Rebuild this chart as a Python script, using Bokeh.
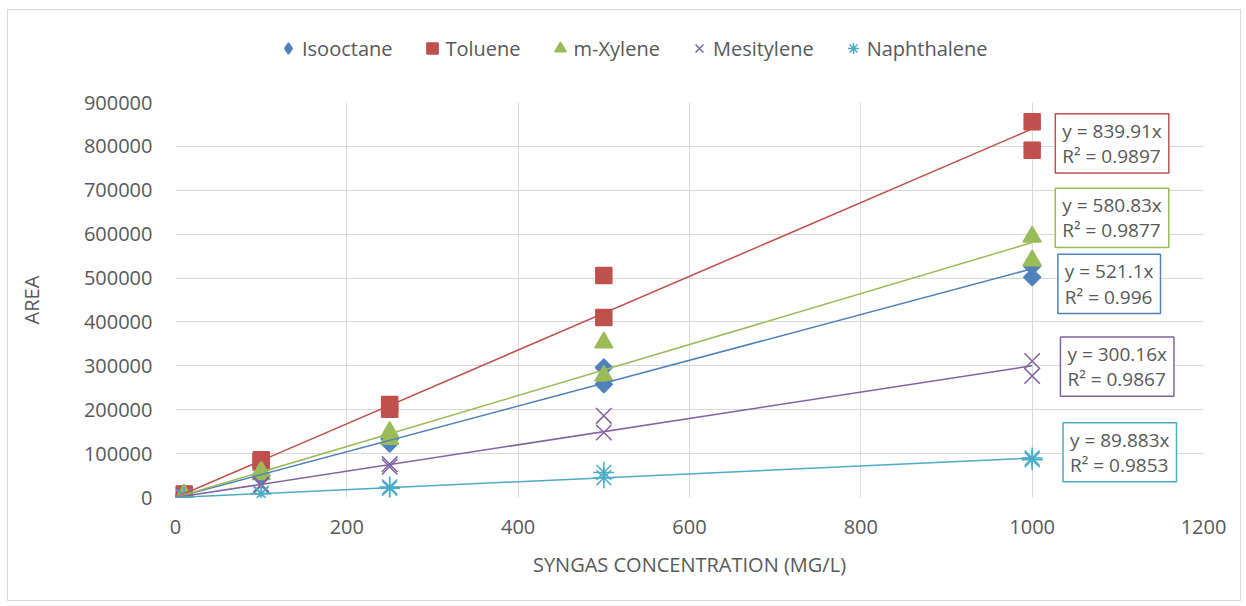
import math

from bokeh.embed import file_html
from bokeh.layouts import column
from bokeh.models import (BasicTickFormatter, FixedTicker, Label, Legend,
                          LegendItem, Range1d)
from bokeh.plotting import figure
from bokeh.resources import INLINE

# Calibration data: peak area for each syngas concentration (two replicates each)
concentration = [10, 10, 100, 100, 250, 250, 500, 500, 1000, 1000]
isooctane = [5000, 5500, 52000, 49000, 123000, 133000, 296000, 258000, 502000, 527000]
toluene = [8000, 7000, 86000, 81000, 212000, 201000, 506000, 410000, 856000, 791000]
m_xylene = [6000, 5500, 60000, 53000, 149000, 133000, 353000, 277000, 594000, 540000]
mesitylene = [3000, 2800, 30000, 27000, 76000, 70000, 186000, 148000, 311000, 277000]
naphthalene = [900, 800, 9000, 8500, 24000, 21000, 57000, 45000, 90000, 86000]

series_names = ["Isooctane", "Toluene", "m-Xylene", "Mesitylene", "Naphthalene"]
series_values = [isooctane, toluene, m_xylene, mesitylene, naphthalene]

# Linear fits forced through the origin
slopes = [521.1, 839.91, 580.83, 300.16, 89.883]
r_squared = ["0.996", "0.9897", "0.9877", "0.9867", "0.9853"]

x_ticks = [0, 200, 400, 600, 800, 1000, 1200]
y_ticks = [0, 100000, 200000, 300000, 400000, 500000, 600000, 700000, 800000, 900000]

# Styling
FONT = "Open Sans"
TEXT = "#595959"
GRID = "#D9D9D9"
colors = ["#4F81BD", "#C0504D", "#9BBB59", "#8064A2", "#4BACC6"]
markers = ["square", "square", "triangle", "x", "asterisk"]
legend_markers = ["diamond", "square", "triangle", "x", "asterisk"]
marker_sizes = [12, 16, 18, 22, 21]
marker_angles = [math.pi / 4, 0, 0, 0, 0]
# top-left corners of the fit-equation boxes (data units)
eq_box_x = [1030, 1027, 1027, 1033, 1036]
eq_box_y = [554000, 874500, 704600, 365800, 170600]

LEGEND_H = 60
CHART_W, CHART_H = 1232, 590

# ---- legend strip across the top of the chart ----
lf = figure(
    width=CHART_W, height=LEGEND_H,
    x_range=Range1d(-2, -1), y_range=Range1d(-2, -1),
    x_axis_type=None, y_axis_type=None,
    output_backend="svg", toolbar_location=None,
    min_border=0,
)
lf.outline_line_color = None
lf.grid.visible = False
lf.background_fill_color = "white"
lf.border_fill_color = "white"

legend_items = []
for i, name in enumerate(series_names):
    c = colors[i]
    # series swatches; the data lie outside this strip's ranges, so only the legend shows
    sw = lf.scatter(concentration, series_values[i], marker=legend_markers[i],
                    size=12, fill_color=c, line_color=c, line_width=1.5)
    legend_items.append(LegendItem(label=name, renderers=[sw]))

legend = Legend(
    items=legend_items, orientation="horizontal", location=(99, 7),
    glyph_width=28, glyph_height=30, label_standoff=0, spacing=25,
    padding=0, margin=0, border_line_color=None, background_fill_alpha=0,
    label_text_font=FONT, label_text_font_size="20px", label_text_color=TEXT,
)
lf.add_layout(legend)

# ---- main chart ----
p = figure(
    width=CHART_W, height=CHART_H - LEGEND_H,
    x_range=Range1d(0, 1200), y_range=Range1d(0, 900000),
    output_backend="svg", toolbar_location=None,
    min_border_left=167, min_border_right=37,
    min_border_top=92 - LEGEND_H, min_border_bottom=103,
)
p.outline_line_color = None
p.background_fill_color = "white"
p.border_fill_color = "white"

for ax in (p.xaxis[0], p.yaxis[0]):
    ax.axis_line_color = None
    ax.major_tick_line_color = None
    ax.minor_tick_line_color = None
    ax.major_tick_out = 0
    ax.major_tick_in = 0
    ax.major_label_text_font = FONT
    ax.major_label_text_font_size = "20px"
    ax.major_label_text_color = TEXT
    ax.axis_label_text_font = FONT
    ax.axis_label_text_font_size = "20px"
    ax.axis_label_text_color = TEXT
    ax.axis_label_text_font_style = "normal"

p.xaxis.ticker = FixedTicker(ticks=x_ticks)
p.yaxis.ticker = FixedTicker(ticks=y_ticks)
p.yaxis.formatter = BasicTickFormatter(use_scientific=False)
p.xaxis.axis_label = "SYNGAS CONCENTRATION (MG/L)"
p.yaxis.axis_label = "AREA"
p.xaxis.major_label_standoff = 22
p.yaxis.major_label_standoff = 23
p.xaxis.axis_label_standoff = 14
p.yaxis.axis_label_standoff = 36

p.xgrid.ticker = FixedTicker(ticks=x_ticks)
p.ygrid.ticker = FixedTicker(ticks=y_ticks)
p.grid.grid_line_color = GRID
p.grid.grid_line_width = 1

x_max = max(concentration)
for i, name in enumerate(series_names):
    c = colors[i]
    p.scatter(concentration, series_values[i], marker=markers[i],
              size=marker_sizes[i], angle=marker_angles[i],
              fill_color=c, line_color=c, line_width=1.5)

# Trend lines y = slope * x
for i, name in enumerate(series_names):
    xs = [0, x_max]
    ys = [slopes[i] * x for x in xs]
    p.line(xs, ys, line_color=colors[i], line_width=1.5)

# Fit equations
for i, name in enumerate(series_names):
    p.add_layout(Label(
        x=eq_box_x[i], y=eq_box_y[i], x_units="data", y_units="data",
        text=f"y = {slopes[i]}x\nR² = {r_squared[i]}",
        anchor="top_left", text_align="left",
        text_font=FONT, text_font_size="19px", text_color=TEXT,
        text_line_height=0.97,
        border_line_color=colors[i], border_line_width=1.5,
        background_fill_color="white",
        padding=dict(left=7, right=7, top=4, bottom=4),
    ))

chart = column(lf, p, spacing=0, margin=(9, 0, 0, 7))
chart.styles = {"border": "1px solid #D9D9D9", "box-sizing": "content-box",
                "background-color": "white"}

open("out.html", "w").write(file_html(chart, INLINE))
